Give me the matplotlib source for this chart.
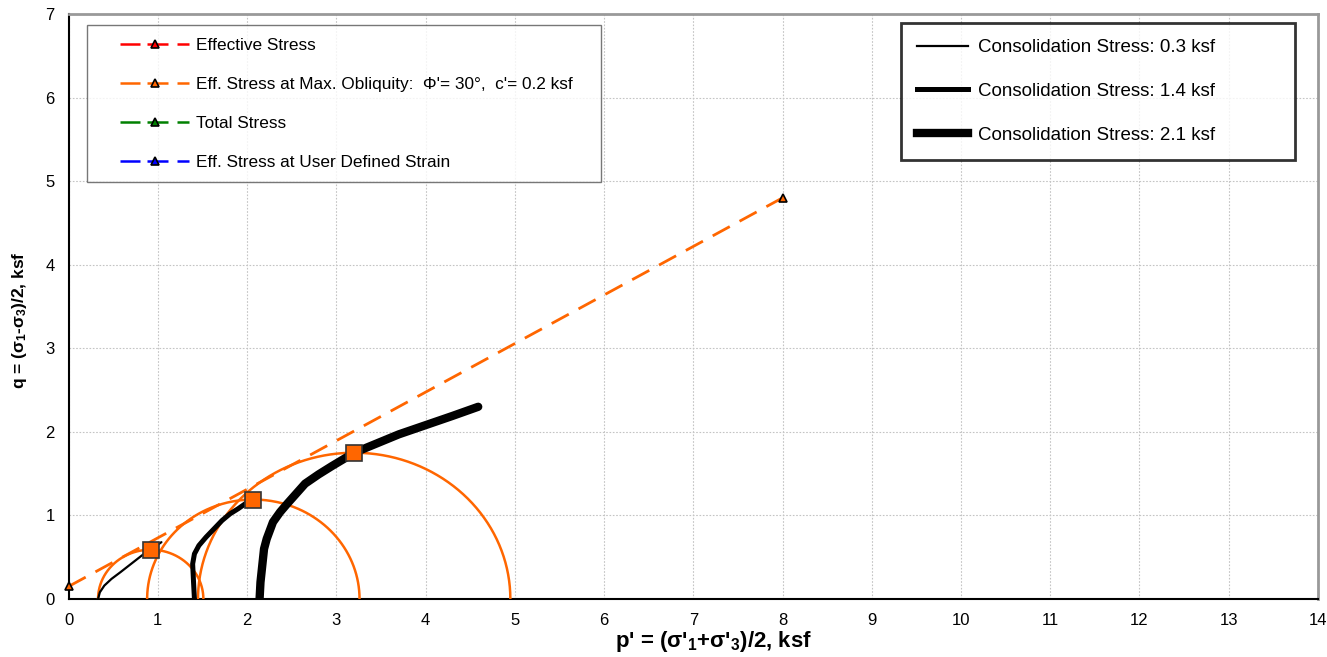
import numpy as np
import matplotlib
matplotlib.use("Agg")
import matplotlib.pyplot as plt
from matplotlib.lines import Line2D
from matplotlib.legend_handler import HandlerBase

plt.rcParams['font.family'] = ['Liberation Sans', 'DejaVu Sans']
plt.rcParams['mathtext.fontset'] = 'custom'
plt.rcParams['mathtext.rm'] = 'Liberation Sans'
plt.rcParams['mathtext.bf'] = 'Liberation Sans:bold'
plt.rcParams['mathtext.default'] = 'regular'

# ---- data ----
# stress paths (p', q) for each consolidation stress
c03_p = [0.33, 0.35, 0.40, 0.48, 0.58, 0.70, 0.82, 0.92, 1.04]
c03_q = [0.00, 0.08, 0.16, 0.24, 0.32, 0.42, 0.52, 0.59, 0.68]
c14_p = [1.41, 1.40, 1.39, 1.41, 1.46, 1.54, 1.63, 1.72, 1.81, 1.90, 1.98, 2.07]
c14_q = [0.00, 0.20, 0.42, 0.54, 0.64, 0.74, 0.84, 0.94, 1.02, 1.08, 1.14, 1.19]
c21_p = [2.14, 2.15, 2.17, 2.19, 2.22, 2.29, 2.37, 2.45, 2.55, 2.65, 2.80, 2.95,
         3.20, 3.45, 3.70, 4.00, 4.30, 4.59]
c21_q = [0.00, 0.20, 0.40, 0.60, 0.72, 0.92, 1.04, 1.14, 1.26, 1.38, 1.49, 1.59,
         1.75, 1.86, 1.97, 2.08, 2.19, 2.30]

# max obliquity points (circle centre p', radius q)
mo_p = [0.92, 2.07, 3.20]
mo_q = [0.59, 1.19, 1.75]

# failure envelope
env_p = [0.0, 8.0]
env_q = [0.15, 4.8]

cons_labels = ["Consolidation Stress: 0.3 ksf",
               "Consolidation Stress: 1.4 ksf",
               "Consolidation Stress: 2.1 ksf"]
legend1_labels = ["Effective Stress",
                  "Eff. Stress at Max. Obliquity:  Φ'= 30°,  c'= 0.2 ksf",
                  "Total Stress",
                  "Eff. Stress at User Defined Strain"]
legend1_colors = ["#FF0000", "#FF6600", "#008000", "#0000FF"]

ORANGE = "#FF6600"


class DashedMarkerHandler(HandlerBase):
    """Legend key: three dash pieces with a triangle marker in the middle."""
    pieces = [(0.0, 0.29), (0.39, 0.70), (0.83, 1.0)]

    def create_artists(self, legend, orig_handle, xdescent, ydescent,
                       width, height, fontsize, trans):
        x0 = -xdescent
        y = (height - ydescent) / 2
        arts = []
        for a, b in self.pieces:
            ln = Line2D([x0 + a * width, x0 + b * width], [y, y],
                        color=orig_handle.get_color(),
                        lw=orig_handle.get_linewidth(), solid_capstyle='butt')
            ln.set_transform(trans)
            arts.append(ln)
        mk = Line2D([x0 + 0.507 * width], [y], ls='none', marker='^',
                    ms=orig_handle.get_markersize(),
                    mfc=orig_handle.get_markerfacecolor(),
                    mec=orig_handle.get_markeredgecolor(),
                    mew=orig_handle.get_markeredgewidth())
        mk.set_transform(trans)
        arts.append(mk)
        return arts


fig = plt.figure(figsize=(13.27, 6.57), dpi=100)
ax = fig.add_axes([0.0517, 0.0883, 0.9415, 0.8904])

# Mohr circles
theta = np.linspace(0, np.pi, 300)
for c, r in zip(mo_p, mo_q):
    ax.plot(c + r * np.cos(theta), r * np.sin(theta), color=ORANGE, lw=1.8, zorder=3)

# envelope
ax.plot(env_p, env_q, color=ORANGE, lw=2, linestyle=(0, (7, 4)), marker='^', ms=6,
        mfc=ORANGE, mec='black', mew=1.2, zorder=4, clip_on=False)

# stress paths
ax.plot(c03_p, c03_q, color='black', lw=1.6, zorder=5, solid_capstyle='round')
ax.plot(c14_p, c14_q, color='black', lw=3.6, zorder=5, solid_capstyle='round')
ax.plot(c21_p, c21_q, color='black', lw=6, zorder=5, solid_capstyle='round')

# max obliquity squares
ax.plot(mo_p, mo_q, ls='none', marker='s', ms=11.5, mfc=ORANGE, mec='#333333',
        mew=1.2, zorder=6)

ax.set_xlim(0, 14)
ax.set_ylim(0, 7)
ax.set_xticks(np.arange(0, 15, 1))
ax.set_yticks(np.arange(0, 8, 1))
ax.tick_params(length=0, labelsize=12, pad=10)
ax.grid(True, color='#c4c4c4', ls=(0, (1.5, 1.5)), lw=0.8, zorder=0)
ax.set_axisbelow(True)
for s in ['left', 'bottom']:
    ax.spines[s].set_color('black')
    ax.spines[s].set_linewidth(1.5)
for s in ['top', 'right']:
    ax.spines[s].set_color('#999999')
    ax.spines[s].set_linewidth(2)

ax.set_xlabel(r"p' = (σ'$_1$+σ'$_3$)/2, ksf", fontsize=16, fontweight='bold')
ax.set_ylabel(r"q = (σ$_1$-σ$_3$)/2, ksf", fontsize=12.5, fontweight='bold')
ax.xaxis.set_label_coords(0.516, -0.051)
ax.yaxis.set_label_coords(-0.032, 0.477)

# legend 1
h1 = [Line2D([], [], color=c, lw=1.8, marker='^', ms=6,
             mfc=c, mec='black', mew=1.2) for c in legend1_colors]
leg1 = ax.legend(h1, legend1_labels, loc='upper left',
                 bbox_to_anchor=(0.0147, 0.3, 0.4114, 0.681), mode='expand',
                 fontsize=12.4, frameon=True, fancybox=False, edgecolor='#555555',
                 handlelength=5.2, handletextpad=0.4, labelspacing=1.4,
                 borderpad=0.72, borderaxespad=0,
                 handler_map={Line2D: DashedMarkerHandler(xpad=1.2)})
leg1.get_frame().set_linewidth(1.0)
ax.add_artist(leg1)

# legend 2
h2 = [Line2D([], [], color='black', lw=w) for w in (1.6, 3.6, 6)]
leg2 = ax.legend(h2, cons_labels, loc='upper left',
                 bbox_to_anchor=(0.6662, 0.5, 0.3154, 0.4846), mode='expand',
                 fontsize=13.5, frameon=True, fancybox=False, edgecolor='black',
                 handlelength=2.75, handletextpad=0.53, labelspacing=1.43,
                 borderpad=0.85, borderaxespad=0)
leg2.get_frame().set_linewidth(2.0)

fig.savefig("out.png", dpi=100, facecolor='white')
